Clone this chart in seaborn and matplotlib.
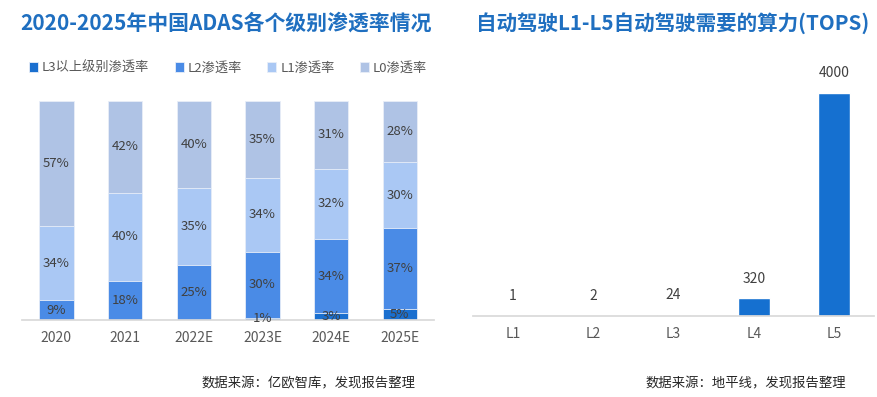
import numpy as np
import pandas as pd
import matplotlib
matplotlib.use("Agg")
import matplotlib.pyplot as plt
import seaborn as sns

# left chart data (%)
years = ["2020", "2021", "2022E", "2023E", "2024E", "2025E"]
l3 = [0, 0, 0, 1, 3, 5]
l2 = [9, 18, 25, 30, 34, 37]
l1 = [34, 40, 35, 34, 32, 30]
l0 = [57, 42, 40, 35, 31, 28]
series_names = ["L3以上级别渗透率", "L2渗透率", "L1渗透率", "L0渗透率"]
series_colors = ["#1a6fcf", "#4a8be6", "#aac8f4", "#afc3e5"]

# right chart data (TOPS)
levels = ["L1", "L2", "L3", "L4", "L5"]
tops = [1, 2, 24, 320, 4000]

sns.set_theme(style="white")
plt.rcParams["font.family"] = ["Noto Sans CJK SC", "DejaVu Sans"]

fig = plt.figure(figsize=(8.77, 3.97), dpi=100)
ax1 = fig.add_axes([0.0251, 0.194, 0.470, 0.552])
ax2 = fig.add_axes([0.539, 0.204, 0.458, 0.562])

title_color = "#1f6fc0"
text_gray = "#595959"

# ---- left: stacked bars (draw cumulative from top down)
df = pd.DataFrame({"year": years, "L3": l3, "L2": l2, "L1": l1, "L0": l0})
stack = [l3, l2, l1, l0]
cum = np.cumsum(np.array(stack), axis=0)
for i in range(3, -1, -1):
    sns.barplot(x=df["year"], y=cum[i], color=series_colors[i], width=0.5,
                saturation=1, label=series_names[i], ax=ax1,
                edgecolor="#e8eef8", linewidth=0.6)

for i in range(4):
    bottoms = cum[i] - np.array(stack[i])
    for j, v in enumerate(stack[i]):
        if v == 0:
            continue
        ax1.text(j, bottoms[j] + v / 2, f"{v}%", ha="center", va="center",
                 fontsize=9.5, color="#404040")

ax1.set_xlim(-0.5, 5.5)
ax1.set_ylim(0, 100)
ax1.set_xlabel("")
ax1.set_ylabel("")
ax1.set_yticks([])
for s in ["top", "right", "left"]:
    ax1.spines[s].set_visible(False)
ax1.spines["bottom"].set_color("#d9d9d9")
ax1.tick_params(axis="x", length=0, pad=8, labelsize=10, labelcolor=text_gray)

handles, labels = ax1.get_legend_handles_labels()
order = [labels.index(n) for n in series_names]
ax1.legend([handles[k] for k in order], series_names, ncol=4, frameon=False,
           loc="center", bbox_to_anchor=(0.5, 1.15), fontsize=9.5,
           handlelength=0.7, handleheight=0.7, handletextpad=0.3,
           columnspacing=1.9, labelcolor=text_gray)

fig.text(0.258, 0.942, "2020-2025年中国ADAS各个级别渗透率情况", ha="center",
         va="center", fontsize=15, fontweight="bold", color=title_color)
fig.text(0.474, 0.035, "数据来源：亿欧智库，发现报告整理", ha="right",
         va="center", fontsize=9.6, color="#262626")

# ---- right: TOPS bars
sns.barplot(x=levels, y=tops, color="#1570d0", width=0.4, saturation=1, ax=ax2)
ax2.bar_label(ax2.containers[0], labels=[str(t) for t in tops], padding=9,
              fontsize=10, color="#404040")
ax2.set_xlim(-0.5, 4.5)
ax2.set_ylim(0, 4000)
ax2.set_yticks([])
for s in ["top", "right", "left"]:
    ax2.spines[s].set_visible(False)
ax2.spines["bottom"].set_color("#d9d9d9")
ax2.tick_params(axis="x", length=0, pad=8, labelsize=10, labelcolor=text_gray)

fig.text(0.767, 0.942, "自动驾驶L1-L5自动驾驶需要的算力(TOPS)", ha="center",
         va="center", fontsize=14.8, fontweight="bold", color=title_color)
fig.text(0.965, 0.035, "数据来源：地平线，发现报告整理", ha="right",
         va="center", fontsize=9.6, color="#262626")

fig.savefig("out.png", dpi=100)
